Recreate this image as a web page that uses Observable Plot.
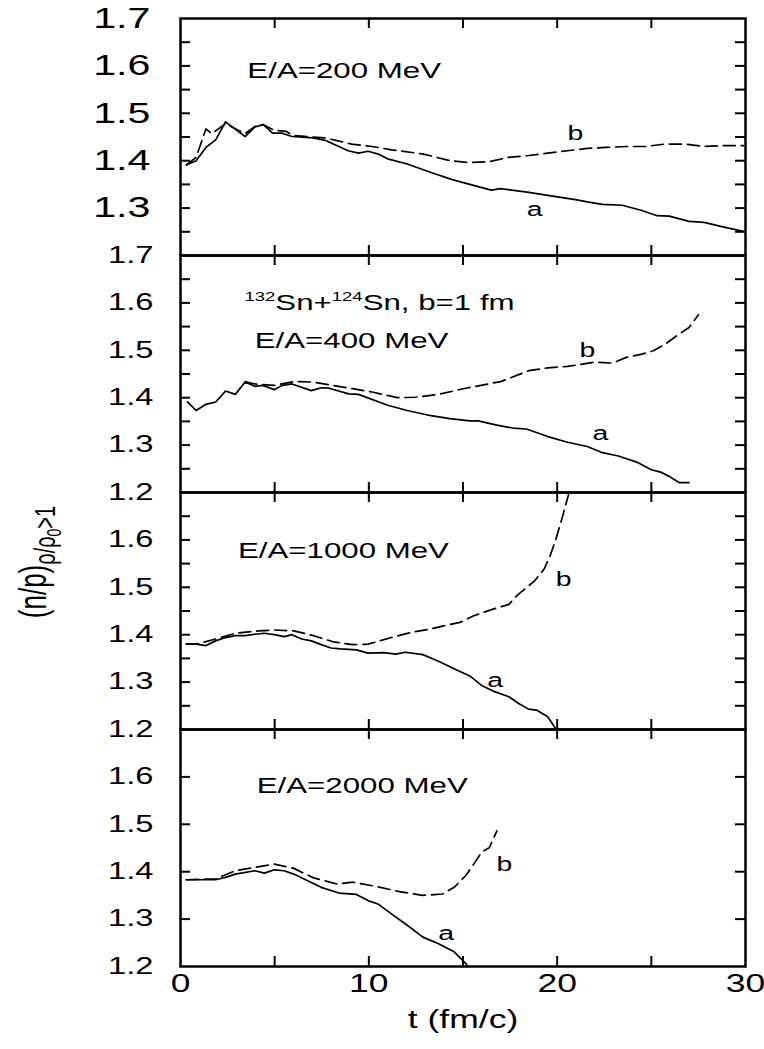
<!DOCTYPE html>
<html><head><meta charset="utf-8">
<script src="https://cdn.jsdelivr.net/npm/d3@7"></script>
<script src="https://cdn.jsdelivr.net/npm/@observablehq/plot@0.6"></script>
<style>body{margin:0;background:#fff}</style>
</head><body><div id="chart"></div>
<script>
// Panels (beam energy E/A in MeV)
const panels = [200, 400, 1000, 2000];

// curve a (solid) and curve b (dashed): [t (fm/c), (n/p)]
const a200 = [[0.31,1.391],[0.83,1.40],[1.35,1.428],[1.87,1.444],[2.39,1.482],[3.43,1.451],[3.94,1.471],[4.4,1.476],[4.88,1.458],[5.4,1.458],[5.92,1.451],[7.06,1.448],[7.68,1.443],[8.9,1.421],[9.45,1.416],[9.96,1.42],[10.5,1.414],[11.0,1.404],[12.04,1.393],[13.3,1.375],[14.43,1.36],[15.36,1.35],[16.5,1.338],[17.0,1.341],[18.5,1.333],[19.5,1.327],[20.97,1.318],[21.6,1.313],[22.4,1.308],[23.46,1.306],[24.5,1.295],[25.3,1.284],[25.95,1.283],[27.0,1.272],[27.8,1.27],[28.86,1.26],[29.9,1.251]];
const b200 = [[0.31,1.391],[0.83,1.407],[1.35,1.467],[1.66,1.457],[2.39,1.478],[3.43,1.457],[3.94,1.472],[4.4,1.476],[4.98,1.464],[5.6,1.462],[6.0,1.453],[7.68,1.448],[9.1,1.435],[10.17,1.43],[11.2,1.423],[12.9,1.414],[14.3,1.40],[15.36,1.396],[16.4,1.398],[17.4,1.407],[18.5,1.411],[19.5,1.416],[20.55,1.421],[21.6,1.426],[22.6,1.428],[23.7,1.43],[24.7,1.43],[25.7,1.435],[26.8,1.435],[27.8,1.43],[28.86,1.432],[29.9,1.432]];
const a400 = [[0.37,1.391],[0.83,1.373],[1.35,1.386],[1.87,1.391],[2.39,1.414],[2.91,1.407],[3.43,1.433],[3.94,1.424],[4.36,1.426],[4.98,1.417],[5.4,1.426],[5.92,1.429],[6.95,1.415],[7.47,1.421],[7.89,1.42],[8.93,1.408],[9.45,1.407],[11.0,1.384],[12.04,1.373],[13.3,1.362],[14.3,1.356],[15.36,1.351],[15.8,1.351],[16.8,1.342],[17.65,1.336],[18.37,1.334],[19.5,1.318],[20.55,1.306],[21.6,1.297],[22.4,1.284],[23.25,1.277],[24.3,1.263],[25.0,1.248],[25.5,1.243],[25.95,1.234],[26.47,1.221],[27.0,1.221]];
const b400 = [[3.43,1.434],[3.94,1.429],[4.98,1.426],[6.02,1.434],[7.06,1.433],[8.1,1.426],[9.14,1.419],[10.17,1.412],[11.52,1.40],[12.46,1.401],[13.7,1.407],[15.15,1.42],[17.0,1.434],[18.5,1.457],[19.5,1.463],[20.55,1.466],[22.0,1.475],[22.94,1.473],[23.67,1.485],[24.5,1.492],[25.1,1.499],[25.74,1.513],[26.36,1.531],[27.0,1.548],[27.5,1.575]];
const a1000 = [[0.31,1.38],[0.83,1.38],[1.35,1.377],[1.87,1.387],[2.39,1.394],[2.91,1.398],[3.43,1.398],[3.94,1.401],[4.46,1.403],[4.98,1.40],[5.5,1.396],[5.92,1.40],[6.43,1.391],[6.95,1.387],[7.47,1.379],[7.99,1.372],[8.51,1.37],[9.34,1.368],[9.96,1.361],[10.8,1.362],[11.42,1.359],[11.94,1.363],[12.87,1.358],[13.7,1.344],[14.53,1.328],[15.36,1.313],[15.99,1.293],[16.6,1.281],[17.44,1.269],[17.96,1.255],[18.48,1.243],[18.9,1.241],[19.5,1.227],[19.93,1.201]];
const b1000 = [[0.31,1.38],[0.83,1.38],[1.87,1.391],[2.91,1.403],[4.15,1.408],[4.98,1.41],[6.02,1.408],[7.06,1.398],[8.1,1.385],[9.14,1.379],[9.96,1.38],[11.2,1.394],[12.25,1.405],[13.28,1.412],[14.12,1.42],[14.84,1.426],[15.57,1.44],[16.6,1.454],[17.44,1.464],[17.85,1.482],[18.27,1.496],[18.79,1.513],[19.3,1.538],[19.62,1.566],[19.93,1.601],[20.24,1.643],[20.6,1.695]];
const a2000 = [[0.31,1.383],[1.87,1.383],[2.39,1.388],[2.91,1.395],[3.94,1.402],[4.46,1.397],[4.98,1.404],[5.5,1.402],[6.02,1.395],[6.75,1.381],[7.47,1.367],[8.41,1.355],[9.34,1.352],[9.96,1.339],[10.48,1.332],[11.2,1.311],[12.04,1.287],[12.87,1.262],[13.7,1.248],[14.53,1.231],[15.15,1.206],[15.26,1.2]];
const b2000 = [[0.31,1.383],[1.87,1.385],[2.91,1.402],[3.94,1.409],[4.98,1.416],[6.02,1.407],[7.06,1.387],[8.31,1.374],[9.14,1.378],[10.38,1.369],[11.63,1.358],[12.87,1.35],[13.91,1.353],[14.53,1.367],[15.15,1.392],[15.57,1.416],[15.99,1.441],[16.4,1.451],[16.8,1.486]];

// annotations
const energyTexts = ["E/A=200 MeV", "E/A=400 MeV", "E/A=1000 MeV", "E/A=2000 MeV"];
const energyPos = [[3.55,1.59],[3.94,1.52],[3.05,1.576],[4.05,1.58]];
const reactionText = "132Sn+124Sn, b=1 fm";
const reactionPos = [3.4, 1.60];
const labelAPos = [[18.8,1.297],[22.3,1.325],[16.7,1.303],[14.1,1.269]];
const labelBPos = [[20.97,1.457],[21.6,1.50],[20.35,1.517],[17.2,1.416]];

// axes
const majorTicks = [1.3, 1.4, 1.5, 1.6];
const minorTicks = [1.25, 1.35, 1.45, 1.55, 1.65];
const xTicks = [5, 10, 15, 20, 25];
const xTickLabels = [0, 10, 20, 30];
const yLabels200 = [1.3, 1.4, 1.5, 1.6, 1.7];
const yLabels400 = [1.2, 1.3, 1.4, 1.5, 1.6, 1.7];
const yLabels1000 = [1.2, 1.3, 1.4, 1.5, 1.6];
const yLabels2000 = [1.2, 1.3, 1.4, 1.5, 1.6];
const xTitle = "t (fm/c)";

const rows = (panel, pts) => pts.map(([t, v]) => ({panel, t, v}));
const lineA = [...rows(200, a200), ...rows(400, a400), ...rows(1000, a1000), ...rows(2000, a2000)];
const lineB = [...rows(200, b200), ...rows(400, b400), ...rows(1000, b1000), ...rows(2000, b2000)];

const yTickRows = panels.flatMap(p => (p === 2000 ? majorTicks : [...majorTicks, ...minorTicks]).map(v => ({panel: p, v})));
const xTickRows = panels.flatMap(p => xTicks.map(t => ({panel: p, t})));
const yLabTop = yLabels200.map(v => ({panel: 200, v}));
const yLabRest = [...yLabels400.map(v => ({panel: 400, v})), ...yLabels1000.map(v => ({panel: 1000, v})), ...yLabels2000.map(v => ({panel: 2000, v}))];
const energyRows = panels.map((p, i) => ({panel: p, t: energyPos[i][0], v: energyPos[i][1], text: energyTexts[i]}));
const aRows = panels.map((p, i) => ({panel: p, t: labelAPos[i][0], v: labelAPos[i][1], text: "a"}));
const bRows = panels.map((p, i) => ({panel: p, t: labelBPos[i][0], v: labelBPos[i][1], text: "b"}));

const W = 764, ML = 180, MR = 19, MT = 18, PH = 237;
const innerW = W - ML - MR;
const tick = 10;
const FONT = "'Liberation Sans', Arial, sans-serif";

const plot = Plot.plot({
  width: W,
  height: 1049,
  marginLeft: ML,
  marginRight: MR,
  marginTop: MT,
  marginBottom: 1049 - MT - 4 * PH,
  style: {fontFamily: FONT, background: "white", overflow: "visible", color: "black"},
  x: {domain: [0, 30], axis: null},
  y: {domain: [1.2, 1.7], axis: null},
  fy: {domain: panels, axis: null, padding: 0},
  marks: [
    Plot.line(lineA, {x: "t", y: "v", fy: "panel", stroke: "black", strokeWidth: 1.7}),
    Plot.line(lineB, {x: "t", y: "v", fy: "panel", stroke: "black", strokeWidth: 1.7, strokeDasharray: "12,6"}),
    Plot.tickY(yTickRows, {y: "v", fy: "panel", insetRight: innerW - tick, strokeWidth: 2}),
    Plot.tickY(yTickRows, {y: "v", fy: "panel", insetLeft: innerW - tick, strokeWidth: 2}),
    Plot.tickX(xTickRows, {x: "t", fy: "panel", insetBottom: PH - tick, strokeWidth: 2}),
    Plot.tickX(xTickRows, {x: "t", fy: "panel", insetTop: PH - tick, strokeWidth: 2}),
    Plot.frame({stroke: "black", strokeWidth: 2.5}),
    Plot.text(yLabTop, {frameAnchor: "left", y: "v", fy: "panel", text: d => d.v.toFixed(1), textAnchor: "end", dx: -30, fontSize: 29}),
    Plot.text(yLabRest, {frameAnchor: "left", y: "v", fy: "panel", text: d => d.v.toFixed(1), textAnchor: "end", dx: -27, fontSize: 23}),
    Plot.text(xTickLabels, {x: d => d, fy: () => 2000, frameAnchor: "bottom", dy: 25, text: d => String(d), fontSize: 25}),
    Plot.text([xTitle], {fy: () => 2000, frameAnchor: "bottom", dy: 61, text: d => d, fontSize: 25}),
    Plot.text(energyRows, {x: "t", y: "v", fy: "panel", text: "text", textAnchor: "start", fontSize: 22}),
    Plot.text([reactionText], {x: () => reactionPos[0], y: () => reactionPos[1], fy: () => 400, text: d => d, textAnchor: "start", fontSize: 22}),
    Plot.text(aRows, {x: "t", y: "v", fy: "panel", text: "text", fontSize: 20}),
    Plot.text(bRows, {x: "t", y: "v", fy: "panel", text: "text", fontSize: 20})
  ]
});

document.getElementById("chart").appendChild(plot);
const svg = d3.select(plot);

// superscripts in the reaction label
svg.selectAll("text").filter(function() { return this.textContent === reactionText; }).each(function() {
  const t = d3.select(this);
  t.text(null);
  t.append("tspan").attr("font-size", 13).attr("dy", -9).text("132");
  t.append("tspan").attr("dy", 9).text("Sn+");
  t.append("tspan").attr("font-size", 13).attr("dy", -9).text("124");
  t.append("tspan").attr("dy", 9).text("Sn, b=1 fm");
});

// the original figure's lettering is horizontally wide: widen glyphs
const STRETCH = 1.42;
svg.selectAll("text").each(function() {
  const len = this.getComputedTextLength();
  if (len > 0) {
    this.setAttribute("textLength", (len * STRETCH).toFixed(1));
    this.setAttribute("lengthAdjust", "spacingAndGlyphs");
  }
});

// y-axis title with subscripts (rotated; glyphs widened across the page)
const yt = svg.append("text")
  .attr("transform", "translate(46,562) rotate(-90) scale(1,1.5)")
  .attr("font-family", FONT)
  .attr("font-size", 26)
  .attr("fill", "black");
yt.append("tspan").text("(n/p)");
yt.append("tspan").attr("font-size", 20).attr("dy", 6).text("ρ/ρ");
yt.append("tspan").attr("font-size", 14).attr("dy", 4).text("0");
yt.append("tspan").attr("font-size", 20).attr("dy", -4).text(">1");
</script>
</body></html>
